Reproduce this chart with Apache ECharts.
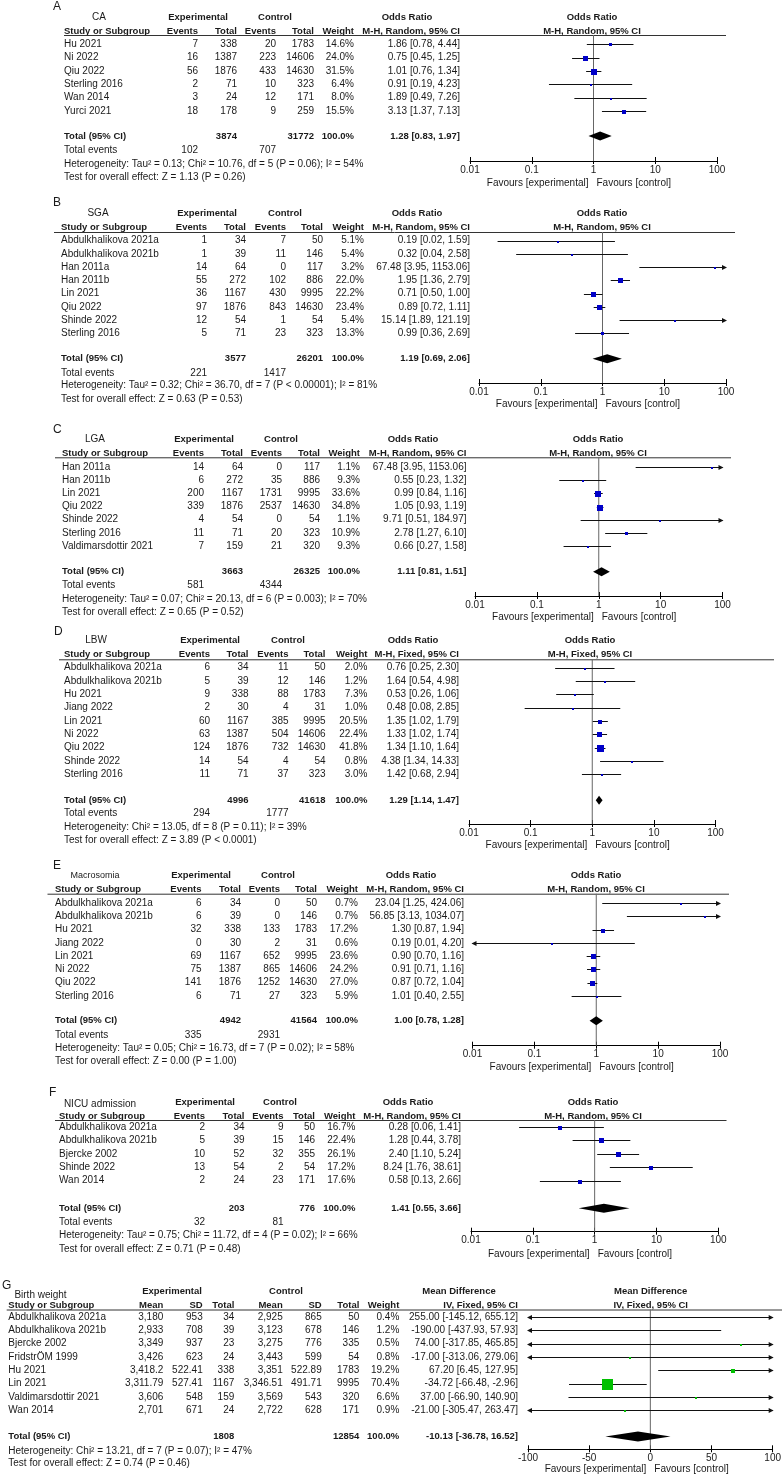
<!DOCTYPE html>
<html><head><meta charset="utf-8">
<script src="https://cdn.jsdelivr.net/npm/echarts@6/dist/echarts.min.js"></script>
<style>html,body{margin:0;padding:0;background:#fff}#c{width:784px;height:1476px}</style>
</head><body><div id="c"></div>
<script>
// ================= DATA =================
// A: CA
const aStudies = ['Hu 2021','Ni 2022','Qiu 2022','Sterling 2016','Wan 2014','Yurci 2021'];
const aExpEvents = [7,16,56,2,3,18];
const aExpTotal = [338,1387,1876,71,24,178];
const aCtlEvents = [20,223,433,10,12,9];
const aCtlTotal = [1783,14606,14630,323,171,259];
const aWeight = [14.6,24.0,31.5,6.4,8.0,15.5];
const aOR = [1.86,0.75,1.01,0.91,1.89,3.13];
const aLow = [0.78,0.45,0.76,0.19,0.49,1.37];
const aHigh = [4.44,1.25,1.34,4.23,7.26,7.13];
const aTotals = [3874,31772];
const aPooled = [1.28,0.83,1.97];
const aEvents = [102,707];
const aHet = 'Heterogeneity: Tau² = 0.13; Chi² = 10.76, df = 5 (P = 0.06); I² = 54%';
const aTest = 'Test for overall effect: Z = 1.13 (P = 0.26)';
// B: SGA
const bStudies = ['Abdulkhalikova 2021a','Abdulkhalikova 2021b','Han 2011a','Han 2011b','Lin 2021','Qiu 2022','Shinde 2022','Sterling 2016'];
const bExpEvents = [1,1,14,55,36,97,12,5];
const bExpTotal = [34,39,64,272,1167,1876,54,71];
const bCtlEvents = [7,11,0,102,430,843,1,23];
const bCtlTotal = [50,146,117,886,9995,14630,54,323];
const bWeight = [5.1,5.4,3.2,22.0,22.2,23.4,5.4,13.3];
const bOR = [0.19,0.32,67.48,1.95,0.71,0.89,15.14,0.99];
const bLow = [0.02,0.04,3.95,1.36,0.50,0.72,1.89,0.36];
const bHigh = [1.59,2.58,1153.06,2.79,1.00,1.11,121.19,2.69];
const bTotals = [3577,26201];
const bPooled = [1.19,0.69,2.06];
const bEvents = [221,1417];
const bHet = 'Heterogeneity: Tau² = 0.32; Chi² = 36.70, df = 7 (P < 0.00001); I² = 81%';
const bTest = 'Test for overall effect: Z = 0.63 (P = 0.53)';
// C: LGA
const cStudies = ['Han 2011a','Han 2011b','Lin 2021','Qiu 2022','Shinde 2022','Sterling 2016','Valdimarsdottir 2021'];
const cExpEvents = [14,6,200,339,4,11,7];
const cExpTotal = [64,272,1167,1876,54,71,159];
const cCtlEvents = [0,35,1731,2537,0,20,21];
const cCtlTotal = [117,886,9995,14630,54,323,320];
const cWeight = [1.1,9.3,33.6,34.8,1.1,10.9,9.3];
const cOR = [67.48,0.55,0.99,1.05,9.71,2.78,0.66];
const cLow = [3.95,0.23,0.84,0.93,0.51,1.27,0.27];
const cHigh = [1153.06,1.32,1.16,1.19,184.97,6.10,1.58];
const cTotals = [3663,26325];
const cPooled = [1.11,0.81,1.51];
const cEvents = [581,4344];
const cHet = 'Heterogeneity: Tau² = 0.07; Chi² = 20.13, df = 6 (P = 0.003); I² = 70%';
const cTest = 'Test for overall effect: Z = 0.65 (P = 0.52)';
// D: LBW
const dStudies = ['Abdulkhalikova 2021a','Abdulkhalikova 2021b','Hu 2021','Jiang 2022','Lin 2021','Ni 2022','Qiu 2022','Shinde 2022','Sterling 2016'];
const dExpEvents = [6,5,9,2,60,63,124,14,11];
const dExpTotal = [34,39,338,30,1167,1387,1876,54,71];
const dCtlEvents = [11,12,88,4,385,504,732,4,37];
const dCtlTotal = [50,146,1783,31,9995,14606,14630,54,323];
const dWeight = [2.0,1.2,7.3,1.0,20.5,22.4,41.8,0.8,3.0];
const dOR = [0.76,1.64,0.53,0.48,1.35,1.33,1.34,4.38,1.42];
const dLow = [0.25,0.54,0.26,0.08,1.02,1.02,1.10,1.34,0.68];
const dHigh = [2.30,4.98,1.06,2.85,1.79,1.74,1.64,14.33,2.94];
const dTotals = [4996,41618];
const dPooled = [1.29,1.14,1.47];
const dEvents = [294,1777];
const dHet = 'Heterogeneity: Chi² = 13.05, df = 8 (P = 0.11); I² = 39%';
const dTest = 'Test for overall effect: Z = 3.89 (P < 0.0001)';
// E: Macrosomia
const eStudies = ['Abdulkhalikova 2021a','Abdulkhalikova 2021b','Hu 2021','Jiang 2022','Lin 2021','Ni 2022','Qiu 2022','Sterling 2016'];
const eExpEvents = [6,6,32,0,69,75,141,6];
const eExpTotal = [34,39,338,30,1167,1387,1876,71];
const eCtlEvents = [0,0,133,2,652,865,1252,27];
const eCtlTotal = [50,146,1783,31,9995,14606,14630,323];
const eWeight = [0.7,0.7,17.2,0.6,23.6,24.2,27.0,5.9];
const eOR = [23.04,56.85,1.30,0.19,0.90,0.91,0.87,1.01];
const eLow = [1.25,3.13,0.87,0.01,0.70,0.71,0.72,0.40];
const eHigh = [424.06,1034.07,1.94,4.20,1.16,1.16,1.04,2.55];
const eTotals = [4942,41564];
const ePooled = [1.00,0.78,1.28];
const eEvents = [335,2931];
const eHet = 'Heterogeneity: Tau² = 0.05; Chi² = 16.73, df = 7 (P = 0.02); I² = 58%';
const eTest = 'Test for overall effect: Z = 0.00 (P = 1.00)';
// F: NICU admission
const fStudies = ['Abdulkhalikova 2021a','Abdulkhalikova 2021b','Bjercke 2002','Shinde 2022','Wan 2014'];
const fExpEvents = [2,5,10,13,2];
const fExpTotal = [34,39,52,54,24];
const fCtlEvents = [9,15,32,2,23];
const fCtlTotal = [50,146,355,54,171];
const fWeight = [16.7,22.4,26.1,17.2,17.6];
const fOR = [0.28,1.28,2.40,8.24,0.58];
const fLow = [0.06,0.44,1.10,1.76,0.13];
const fHigh = [1.41,3.78,5.24,38.61,2.66];
const fTotals = [203,776];
const fPooled = [1.41,0.55,3.66];
const fEvents = [32,81];
const fHet = 'Heterogeneity: Tau² = 0.75; Chi² = 11.72, df = 4 (P = 0.02); I² = 66%';
const fTest = 'Test for overall effect: Z = 0.71 (P = 0.48)';
// G: Birth weight
const gStudies = ['Abdulkhalikova 2021a','Abdulkhalikova 2021b','Bjercke 2002','FridstrÖM 1999','Hu 2021','Lin 2021','Valdimarsdottir 2021','Wan 2014'];
const gExpMean = [3180,2933,3349,3426,3418.2,3311.79,3606,2701];
const gExpSD = [953,708,937,623,522.41,527.41,548,671];
const gExpTotal = [34,39,23,24,338,1167,159,24];
const gCtlMean = [2925,3123,3275,3443,3351,3346.51,3569,2722];
const gCtlSD = [865,678,776,599,522.89,491.71,543,628];
const gCtlTotal = [50,146,335,54,1783,9995,320,171];
const gWeight = [0.4,1.2,0.5,0.8,19.2,70.4,6.6,0.9];
const gMD = [255.00,-190.00,74.00,-17.00,67.20,-34.72,37.00,-21.00];
const gLow = [-145.12,-437.93,-317.85,-313.06,6.45,-66.48,-66.90,-305.47];
const gHigh = [655.12,57.93,465.85,279.06,127.95,-2.96,140.90,263.47];
const gTotals = [1808,12854];
const gPooled = [-10.13,-36.78,16.52];
const gHet = 'Heterogeneity: Chi² = 13.21, df = 7 (P = 0.07); I² = 47%';
const gTest = 'Test for overall effect: Z = 0.74 (P = 0.46)';
const orTicks = [0.01,0.1,1,10,100];
const mdTicks = [-100,-50,0,50,100];

// ================= LAYOUT =================
const FONT = '"Liberation Sans", Arial, Helvetica, sans-serif';
const INK = '#1a1a1a';
const BOLD = 9.5;
const L = {
 A:{lab:[53,7], tX:99, tY:17, h1:17, h2:31, ul:35, ulX:[64,726], r0:44.3, st:13.3, tot:136, tev:150, het:164, test:177, axY:161, axX:[470,717], lbl:171, fav:183, cols:[64,198,237,276,314,354,460], exp:198, ctl:275, efL:407, efR:592},
 B:{lab:[53,203], tX:98, tY:213, h1:213, h2:227, ul:232, ulX:[54,735], r0:240.7, st:13.25, tot:358.7, tev:373, het:385.5, test:399.5, axY:383, axX:[479,726], lbl:393, fav:404.7, cols:[61,207,246,286,323,364,470], exp:207, ctl:285, efL:417, efR:602},
 C:{lab:[53,429.7], tX:95, tY:439.7, h1:439.7, h2:453, ul:457.3, ulX:[55,731], r0:467, st:13.17, tot:571.7, tev:585.7, het:599, test:612.3, axY:596, axX:[475,722.5], lbl:605.7, fav:617.7, cols:[62,204,243,282,320,360,466.5], exp:204, ctl:281, efL:413, efR:598},
 D:{lab:[54,631.7], tX:96, tY:640, h1:640, h2:654.7, ul:659.3, ulX:[59,774], r0:667.7, st:13.33, tot:800.3, tev:813.3, het:827, test:840.3, axY:824, axX:[469,715.5], lbl:833.3, fav:845.7, cols:[64,210,248.5,288.5,325.5,367.5,459], exp:210, ctl:288, efL:413, efR:590},
 E:{lab:[53,865.3], tX:95, tY:875.7, h1:875.7, h2:889, ul:893.7, ulX:[47.5,729], r0:903, st:13.25, tot:1020.7, tev:1035, het:1048.3, test:1061.7, axY:1045.7, axX:[472.5,720], lbl:1055, fav:1067.7, cols:[55,201.5,241,280,317,358,464], exp:201, ctl:278, efL:411, efR:596},
 F:{lab:[49,1092.3], tX:100, tY:1104.3, h1:1102.7, h2:1116, ul:1120, ulX:[55,726.5], r0:1127, st:13.4, tot:1208.3, tev:1222.3, het:1235.7, test:1249.3, axY:1231.7, axX:[471,718.3], lbl:1241.7, fav:1254.3, cols:[59,205,244.5,283.5,315,355.5,461], exp:205, ctl:280, efL:408, efR:593},
 G:{lab:[2,1286], tX:40.5, tY:1295, h1:1291, h2:1305, ul:1309.5, ulX:[6.7,782], r0:1317, st:13.3, tot:1436.5, het:1451.7, test:1463.3, axY:1449.3, axX:[528,774.7], lbl:1457.7, fav:1469.3, cols:[8.3,163.3,202.7,234.3,282.7,321.7,359.3,399.3,518], exp:172, ctl:286, efL:459, efR:650.7}
};

const orPanels = [
 {k:'A', title:'CA', method:'M-H, Random, 95% CI', studies:aStudies, cols:[aExpEvents,aExpTotal,aCtlEvents,aCtlTotal], w:aWeight, est:aOR, lo:aLow, hi:aHigh, totals:aTotals, pooled:aPooled, events:aEvents, het:aHet, test:aTest},
 {k:'B', title:'SGA', method:'M-H, Random, 95% CI', studies:bStudies, cols:[bExpEvents,bExpTotal,bCtlEvents,bCtlTotal], w:bWeight, est:bOR, lo:bLow, hi:bHigh, totals:bTotals, pooled:bPooled, events:bEvents, het:bHet, test:bTest},
 {k:'C', title:'LGA', method:'M-H, Random, 95% CI', studies:cStudies, cols:[cExpEvents,cExpTotal,cCtlEvents,cCtlTotal], w:cWeight, est:cOR, lo:cLow, hi:cHigh, totals:cTotals, pooled:cPooled, events:cEvents, het:cHet, test:cTest},
 {k:'D', title:'LBW', method:'M-H, Fixed, 95% CI', studies:dStudies, cols:[dExpEvents,dExpTotal,dCtlEvents,dCtlTotal], w:dWeight, est:dOR, lo:dLow, hi:dHigh, totals:dTotals, pooled:dPooled, events:dEvents, het:dHet, test:dTest},
 {k:'E', title:'Macrosomia', tSize:9, method:'M-H, Random, 95% CI', studies:eStudies, cols:[eExpEvents,eExpTotal,eCtlEvents,eCtlTotal], w:eWeight, est:eOR, lo:eLow, hi:eHigh, totals:eTotals, pooled:ePooled, events:eEvents, het:eHet, test:eTest},
 {k:'F', title:'NICU admission', method:'M-H, Random, 95% CI', studies:fStudies, cols:[fExpEvents,fExpTotal,fCtlEvents,fCtlTotal], w:fWeight, est:fOR, lo:fLow, hi:fHigh, totals:fTotals, pooled:fPooled, events:fEvents, het:fHet, test:fTest}
];

// ================= HELPERS =================
const gfx = [];
function txt(x, y, text, o) {
  o = o || {};
  const font = (o.bold ? 'bold ' : '') + (o.size || (o.bold ? BOLD : 10)) + 'px ' + FONT;
  const al = o.align || 'left';
  gfx.push({type:'text', x:x, y:y, silent:true, style:{text:String(text), font:font, fill:o.color||INK, textAlign:al, align:al, textVerticalAlign:'middle', verticalAlign:'middle'}});
}
function hline(x1, x2, y, color) {
  gfx.push({type:'line', silent:true, shape:{x1:x1, y1:y, x2:x2, y2:y}, style:{stroke:color||'#333', lineWidth:1}});
}
const f2 = v => v.toFixed(2);
const ci = (e,l,h) => f2(e) + ' [' + f2(l) + ', ' + f2(h) + ']';
function thou(v) { const s = String(v); const p = s.split('.'); const i = p[0].replace(/\B(?=(\d{3})+(?!\d))/g, ','); return p.length > 1 ? i + '.' + p[1] : i; }
const sqSize = w => Math.max(2, Math.round(0.5 * Math.pow(w, 0.72)));

function studyRenderer(color) {
  return function(params, api) {
    const cs = params.coordSys;
    const row = api.value(3);
    const pE = api.coord([api.value(0), row]);
    const pL = api.coord([api.value(1), row]);
    const pH = api.coord([api.value(2), row]);
    const x0 = cs.x, x1 = cs.x + cs.width;
    const xl = Math.max(pL[0], x0), xh = Math.min(pH[0], x1);
    const y = Math.round(pE[1]) + 0.5;
    const ch = [{type:'line', shape:{x1:xl, y1:y, x2:xh, y2:y}, style:{stroke:'#111', lineWidth:1}}];
    if (pL[0] <= x0 + 0.5) ch.push({type:'polygon', shape:{points:[[x0-1,y],[x0+4,y-2.5],[x0+4,y+2.5]]}, style:{fill:'#111'}});
    if (pH[0] >= x1 - 0.5) ch.push({type:'polygon', shape:{points:[[x1+1,y],[x1-4,y-2.5],[x1-4,y+2.5]]}, style:{fill:'#111'}});
    if (pE[0] >= x0 && pE[0] <= x1) {
      const s = sqSize(api.value(4));
      ch.push({type:'rect', shape:{x:Math.round(pE[0]-s/2), y:Math.round(y-s/2), width:s, height:s}, style:{fill:color}});
    }
    return {type:'group', children:ch};
  };
}
function diamondRenderer(hh) {
  return function(params, api) {
    const row = api.value(3);
    const pE = api.coord([api.value(0), row]);
    const pL = api.coord([api.value(1), row]);
    const pH = api.coord([api.value(2), row]);
    const y = pE[1];
    return {type:'polygon', shape:{points:[[pL[0],y],[pE[0],y-hh],[pH[0],y],[pE[0],y+hh]]}, style:{fill:'#000'}};
  };
}

const option = {animation:false, backgroundColor:'#fff', grid:[], xAxis:[], yAxis:[], series:[], graphic:gfx};

function addForest(i, lay, isLog, rows, pooled, color, ref) {
  option.grid.push({left:lay.axX[0], top:lay.ul, width:lay.axX[1]-lay.axX[0], height:lay.axY-lay.ul});
  const base = isLog ? {type:'log', logBase:10, min:orTicks[0], max:orTicks[orTicks.length-1], splitNumber:orTicks.length-1}
                     : {type:'value', min:mdTicks[0], max:mdTicks[mdTicks.length-1], interval:mdTicks[1]-mdTicks[0]};
  const fmt = isLog ? (v => { const r = Math.round(Math.log10(v)); return r < 0 ? Math.pow(10, r).toFixed(-r) : String(Math.round(Math.pow(10, r))); })
                    : (v => String(Math.round(v)));
  option.xAxis.push(Object.assign({}, base, {gridIndex:i, position:'bottom',
    axisLine:{show:true, onZero:false, lineStyle:{color:'#000', width:1}},
    axisTick:{show:true, inside:true, length:4, lineStyle:{color:'#000'}},
    axisLabel:{show:true, margin:4, fontSize:10, color:INK, fontFamily:FONT, formatter:fmt, showMinLabel:true, showMaxLabel:true},
    splitLine:{show:false}, minorTick:{show:false}}));
  option.xAxis.push(Object.assign({}, base, {gridIndex:i, position:'bottom',
    axisLine:{show:false, onZero:false}, axisTick:{show:true, inside:false, length:3, lineStyle:{color:'#000'}},
    axisLabel:{show:false}, splitLine:{show:false}}));
  const yMin = (lay.ul - lay.r0) / lay.st, yMax = (lay.axY - lay.r0) / lay.st;
  option.yAxis.push({type:'value', gridIndex:i, inverse:true, min:yMin, max:yMax, show:false});
  option.series.push({type:'line', xAxisIndex:2*i, yAxisIndex:i, data:[[ref, yMin],[ref, yMax]], symbol:'none', silent:true, lineStyle:{color:'#666', width:1}, z:1});
  option.series.push({type:'custom', xAxisIndex:2*i, yAxisIndex:i, clip:false, silent:true, z:3, renderItem:studyRenderer(color), encode:{x:0, y:3}, data:rows});
  const totIdx = (lay.tot - lay.r0) / lay.st;
  option.series.push({type:'custom', xAxisIndex:2*i, yAxisIndex:i, clip:false, silent:true, z:3, renderItem:diamondRenderer(isLog ? 4.5 : 5), encode:{x:0, y:3}, data:[[pooled[0], pooled[1], pooled[2], totIdx]]});
}

// ================= BUILD OR PANELS =================
orPanels.forEach((P, i) => {
  const l = L[P.k];
  txt(l.lab[0], l.lab[1], P.k, {size:12, align:'left'});
  txt(l.tX, l.tY, P.title, {align:'center', size:P.tSize||10});
  txt(l.exp, l.h1, 'Experimental', {bold:true, align:'center'});
  txt(l.ctl, l.h1, 'Control', {bold:true, align:'center'});
  txt(l.efL, l.h1, 'Odds Ratio', {bold:true, align:'center'});
  txt(l.efR, l.h1, 'Odds Ratio', {bold:true, align:'center'});
  txt(l.cols[0], l.h2, 'Study or Subgroup', {bold:true});
  ['Events','Total','Events','Total','Weight'].forEach((h, j) => txt(l.cols[j+1], l.h2, h, {bold:true, align:'right'}));
  txt(l.cols[6], l.h2, P.method, {bold:true, align:'right'});
  txt(l.efR, l.h2, P.method, {bold:true, align:'center'});
  hline(l.ulX[0], l.ulX[1], l.ul + 0.5);
  P.studies.forEach((s, k) => {
    const y = l.r0 + k * l.st;
    txt(l.cols[0], y, s);
    for (let j = 0; j < 4; j++) txt(l.cols[j+1], y, P.cols[j][k], {align:'right'});
    txt(l.cols[5], y, P.w[k].toFixed(1) + '%', {align:'right'});
    txt(l.cols[6], y, ci(P.est[k], P.lo[k], P.hi[k]), {align:'right'});
  });
  txt(l.cols[0], l.tot, 'Total (95% CI)', {bold:true});
  txt(l.cols[2], l.tot, P.totals[0], {bold:true, align:'right'});
  txt(l.cols[4], l.tot, P.totals[1], {bold:true, align:'right'});
  txt(l.cols[5], l.tot, '100.0%', {bold:true, align:'right'});
  txt(l.cols[6], l.tot, ci(P.pooled[0], P.pooled[1], P.pooled[2]), {bold:true, align:'right'});
  txt(l.cols[0], l.tev, 'Total events');
  txt(l.cols[1], l.tev, P.events[0], {align:'right'});
  txt(l.cols[3], l.tev, P.events[1], {align:'right'});
  txt(l.cols[0], l.het, P.het);
  txt(l.cols[0], l.test, P.test);
  const c = (l.axX[0] + l.axX[1]) / 2;
  txt(c - 5, l.fav, 'Favours [experimental]', {align:'right'});
  txt(c + 3, l.fav, 'Favours [control]', {align:'left'});
  const rows = P.studies.map((s, k) => [P.est[k], P.lo[k], P.hi[k], k, P.w[k]]);
  addForest(i, l, true, rows, P.pooled, '#0000c8', 1);
});

// ================= PANEL G =================
(function() {
  const l = L.G;
  txt(l.lab[0], l.lab[1], 'G', {size:12});
  txt(l.tX, l.tY, 'Birth weight', {align:'center'});
  txt(l.exp, l.h1, 'Experimental', {bold:true, align:'center'});
  txt(l.ctl, l.h1, 'Control', {bold:true, align:'center'});
  txt(l.efL, l.h1, 'Mean Difference', {bold:true, align:'center'});
  txt(l.efR, l.h1, 'Mean Difference', {bold:true, align:'center'});
  txt(l.cols[0], l.h2, 'Study or Subgroup', {bold:true});
  ['Mean','SD','Total','Mean','SD','Total','Weight','IV, Fixed, 95% CI'].forEach((h, j) => txt(l.cols[j+1], l.h2, h, {bold:true, align:'right'}));
  txt(l.efR, l.h2, 'IV, Fixed, 95% CI', {bold:true, align:'center'});
  hline(l.ulX[0], l.ulX[1], l.ul + 0.5);
  const colsData = [gExpMean, gExpSD, gExpTotal, gCtlMean, gCtlSD, gCtlTotal];
  const useSep = [true, true, false, true, true, false];
  gStudies.forEach((s, k) => {
    const y = l.r0 + k * l.st;
    txt(l.cols[0], y, s);
    colsData.forEach((arr, j) => txt(l.cols[j+1], y, useSep[j] ? thou(arr[k]) : String(arr[k]), {align:'right'}));
    txt(l.cols[7], y, gWeight[k].toFixed(1) + '%', {align:'right'});
    txt(l.cols[8], y, ci(gMD[k], gLow[k], gHigh[k]), {align:'right'});
  });
  txt(l.cols[0], l.tot, 'Total (95% CI)', {bold:true});
  txt(l.cols[3], l.tot, gTotals[0], {bold:true, align:'right'});
  txt(l.cols[6], l.tot, gTotals[1], {bold:true, align:'right'});
  txt(l.cols[7], l.tot, '100.0%', {bold:true, align:'right'});
  txt(l.cols[8], l.tot, ci(gPooled[0], gPooled[1], gPooled[2]), {bold:true, align:'right'});
  txt(l.cols[0], l.het, gHet);
  txt(l.cols[0], l.test, gTest);
  const c = (l.axX[0] + l.axX[1]) / 2;
  txt(c - 5, l.fav, 'Favours [experimental]', {align:'right'});
  txt(c + 3, l.fav, 'Favours [control]', {align:'left'});
  const rows = gStudies.map((s, k) => [gMD[k], gLow[k], gHigh[k], k, gWeight[k]]);
  addForest(6, l, false, rows, gPooled, '#00c000', 0);
})();

const chart = echarts.init(document.getElementById('c'), null, {renderer:'canvas', width:784, height:1476});
chart.setOption(option);
</script>
</body></html>
